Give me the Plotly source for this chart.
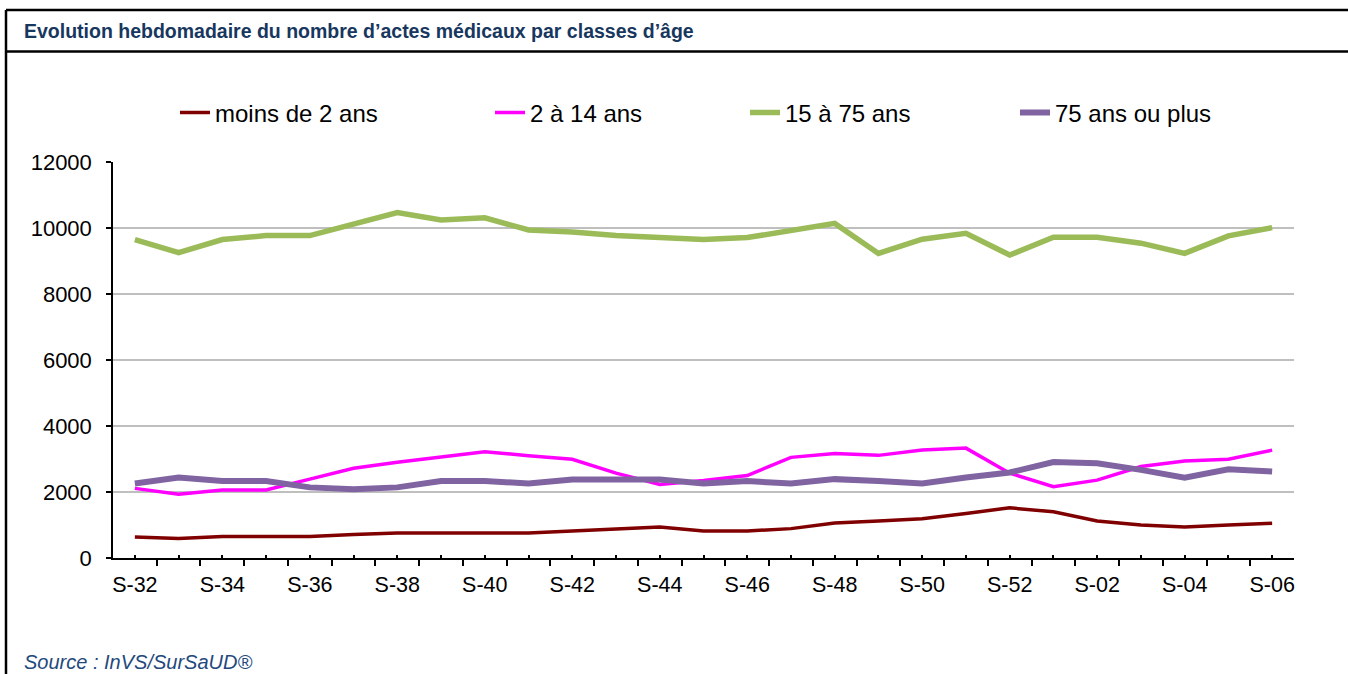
import plotly.graph_objects as go

weeks = ["S-32", "S-33", "S-34", "S-35", "S-36", "S-37", "S-38", "S-39", "S-40", "S-41",
         "S-42", "S-43", "S-44", "S-45", "S-46", "S-47", "S-48", "S-49", "S-50", "S-51",
         "S-52", "S-01", "S-02", "S-03", "S-04", "S-05", "S-06"]

moins_2 = [640, 590, 650, 650, 650, 710, 760, 760, 760, 760, 820, 880, 940, 820, 820,
           890, 1060, 1120, 1190, 1350, 1520, 1400, 1120, 1000, 940, 1000, 1050]
de_2_14 = [2110, 1930, 2060, 2060, 2390, 2720, 2900, 3070, 3220, 3100, 2990, 2570, 2230, 2350,
           2500, 3050, 3170, 3110, 3270, 3330, 2570, 2160, 2360, 2770, 2940, 2990, 3270]
de_15_75 = [9650, 9250, 9650, 9770, 9770, 10120, 10470, 10240, 10310, 9940, 9880, 9770, 9720,
            9650, 9710, 9920, 10140, 9230, 9660, 9840, 9180, 9720, 9720, 9540, 9230, 9760, 10010]
plus_75 = [2260, 2440, 2330, 2330, 2140, 2080, 2140, 2330, 2330, 2260, 2380, 2380, 2380, 2260,
           2330, 2260, 2390, 2330, 2260, 2440, 2590, 2910, 2870, 2670, 2430, 2690, 2620]

series_names = ["moins de 2 ans", "2 à 14 ans", "15 à 75 ans", "75 ans ou plus"]
series_values = [moins_2, de_2_14, de_15_75, plus_75]
series_colors = ["#800000", "#FF00FF", "#9BBB59", "#8064A2"]
series_widths = [3.5, 3.5, 5.5, 6]

y_ticks = [0, 2000, 4000, 6000, 8000, 10000, 12000]

title_text = "Evolution hebdomadaire du nombre d’actes médicaux par classes d’âge"
source_text = "Source : InVS/SurSaUD®"

W, H = 1348, 674
L, R, T, B = 113, 1294, 162, 558  # plot area in pixels


def px_x(p):
    return (p - L) / (R - L)


def px_y(p):
    return (B - p) / (B - T)


idx = list(range(len(weeks)))
legend_ids = ["legend", "legend2", "legend3", "legend4"]
legend_text_x = [215, 530, 785, 1055]

fig = go.Figure()
for name, vals, col, w, lg in zip(series_names, series_values, series_colors, series_widths, legend_ids):
    fig.add_trace(go.Scatter(
        x=idx, y=vals, mode="lines", name=name,
        line=dict(color=col, width=w),
        legend=lg, hoverinfo="skip",
    ))

legend_font = dict(family="Liberation Sans, Arial, sans-serif", size=24, color="#000000")
layout_legends = {}
for lg, tx in zip(legend_ids, legend_text_x):
    layout_legends[lg] = dict(
        x=px_x(tx - 40), xanchor="left", y=px_y(113), yanchor="middle",
        orientation="h", font=legend_font, bgcolor="rgba(0,0,0,0)",
        borderwidth=0, itemclick=False, itemdoubleclick=False,
    )

tick_text = [w if i % 2 == 0 else "" for i, w in enumerate(weeks)]

fig.update_layout(
    width=W, height=H,
    margin=dict(l=L, r=W - R, t=T, b=H - B, autoexpand=False),
    paper_bgcolor="white", plot_bgcolor="white",
    showlegend=True,
    font=dict(family="Liberation Sans, Arial, sans-serif", size=20, color="#000000"),
    **layout_legends,
)

fig.update_xaxes(
    range=[-0.5, len(weeks) - 0.5],
    tickmode="array", tickvals=idx, ticktext=tick_text,
    ticks="inside", ticklen=3, tickwidth=1.5, tickcolor="#000000",
    minor=dict(tickmode="array", tickvals=[i - 0.5 for i in range(len(weeks) + 1)],
               ticks="outside", ticklen=6, tickwidth=1.5, tickcolor="#000000", showgrid=False),
    showline=True, linecolor="#000000", linewidth=1.5,
    showgrid=False, zeroline=False,
    tickfont=dict(size=21.5, color="#000000"),
    ticklabelstandoff=6,
    fixedrange=True,
)

fig.update_yaxes(
    range=[0, 12000],
    tickmode="array", tickvals=y_ticks,
    ticktext=[str(v) for v in y_ticks],
    ticks="outside", ticklen=5, tickwidth=1.5, tickcolor="#000000",
    showline=True, linecolor="#000000", linewidth=1.5,
    showgrid=True, gridcolor="#BFBFBF", gridwidth=1.5, zeroline=False,
    tickfont=dict(size=22, color="#000000"),
    ticklabelstandoff=10,
    fixedrange=True,
)

# frame around the chart and title bar
frame = dict(type="line", xref="paper", yref="paper", line=dict(color="#000000", width=2.5))
fig.add_shape(**frame, x0=px_x(6), x1=px_x(1352), y0=px_y(10), y1=px_y(10))
fig.add_shape(**frame, x0=px_x(6), x1=px_x(1352), y0=px_y(51.5), y1=px_y(51.5))
fig.add_shape(**frame, x0=px_x(6), x1=px_x(6), y0=px_y(10), y1=px_y(680))

fig.add_annotation(
    text=title_text, xref="paper", yref="paper",
    x=px_x(22), y=px_y(31), xanchor="left", yanchor="middle", showarrow=False,
    font=dict(family="Liberation Sans, Arial, sans-serif", size=19.5, color="#17375E", weight="bold"),
)
fig.add_annotation(
    text=source_text, xref="paper", yref="paper",
    x=px_x(22), y=px_y(662), xanchor="left", yanchor="middle", showarrow=False,
    font=dict(family="Liberation Sans, Arial, sans-serif", size=20, color="#1F497D", style="italic"),
)

fig.write_html(
    "out.html",
    config={"displayModeBar": False},
    post_script="document.body.style.margin='0';document.body.style.overflow='hidden';",
)
